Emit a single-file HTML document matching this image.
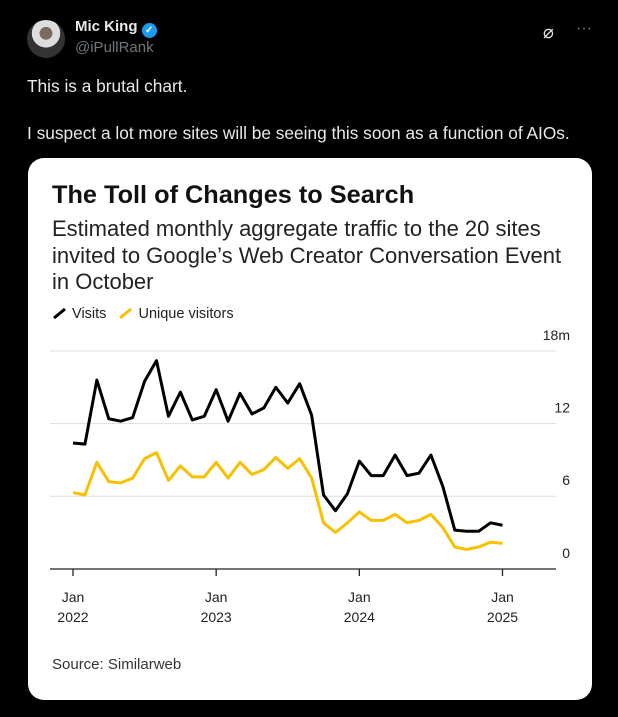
<!DOCTYPE html>
<html><head><meta charset="utf-8">
<style>
body{margin:0;width:618px;height:717px;background:#000;overflow:hidden;font-family:"Liberation Sans",Arial,sans-serif;color:#e7e9ea;position:relative}
.abs{position:absolute}
#card{left:28px;top:158px;width:564px;height:542px;background:#fff;border-radius:16px;}
</style></head><body>
<div class="abs" style="left:27px;top:20px;width:38px;height:38px;border-radius:50%;background:radial-gradient(circle at 50% 35%,#7a6a60 0 20%,#ddd 21% 45%,#333 46%)"></div>
<div class="abs" style="left:75px;top:18px;font-weight:bold;font-size:15px;color:#e7e9ea">Mic King <span style="display:inline-block;width:15px;height:15px;border-radius:50%;background:#1d9bf0;color:#fff;font-size:10px;text-align:center;line-height:15px;vertical-align:-2px">✓</span></div>
<div class="abs" style="left:75px;top:39px;font-size:15px;color:#71767b">@iPullRank</div>
<div class="abs" style="left:543px;top:22px;font-size:18px;color:#e7e9ea">⌀</div>
<div class="abs" style="left:576px;top:20px;font-size:16px;color:#71767b">···</div>
<div class="abs" style="left:27px;top:75px;font-size:17.3px;line-height:23.5px;color:#e7e9ea;white-space:nowrap">This is a brutal chart.<br><br>I suspect a lot more sites will be seeing this soon as a function of AIOs.</div>
<div id="card" class="abs"></div>
<div class="abs" style="left:52px;top:181px;font-size:25.3px;font-weight:bold;color:#111;white-space:nowrap">The Toll of Changes to Search</div>
<div class="abs" style="left:52px;top:216px;width:530px;font-size:22px;line-height:26.5px;color:#222;white-space:nowrap">Estimated monthly aggregate traffic to the 20 sites<br>invited to Google’s Web Creator Conversation Event<br>in October</div>
<div class="abs" style="left:52px;top:306px;font-size:14.5px;color:#222">
<span><svg width="16" height="12" style="vertical-align:-1px"><line x1="2" y1="11" x2="13" y2="2" stroke="#000" stroke-width="3"/></svg> Visits</span>
<span style="margin-left:8px"><svg width="16" height="12" style="vertical-align:-1px"><line x1="2" y1="11" x2="13" y2="2" stroke="#f7c000" stroke-width="3"/></svg> Unique visitors</span></div>
<svg class="abs" style="left:0;top:0" width="618" height="717" id="chart"></svg>
<div class="abs" style="left:52px;top:656px;font-size:15px;color:#333">Source: Similarweb</div>
<script>
const visits=[10.4,10.3,15.6,12.4,12.2,12.5,15.5,17.2,12.6,14.6,12.3,12.6,14.8,12.2,14.5,12.8,13.3,15.0,13.7,15.3,12.7,6.1,4.8,6.2,8.9,7.7,7.7,9.4,7.7,7.9,9.4,6.8,3.2,3.1,3.1,3.8,3.6];
const unique=[6.3,6.1,8.8,7.2,7.1,7.5,9.1,9.6,7.3,8.5,7.6,7.6,8.8,7.5,8.8,7.8,8.2,9.2,8.3,9.1,7.5,3.8,3.0,3.8,4.7,4.0,4.0,4.5,3.8,4.0,4.5,3.4,1.8,1.6,1.8,2.2,2.1];
const yTicks=[0,6,12,18];
const yTickLabels=["0","6","12","18m"];
const xTickMonths=[0,12,24,36];
const xTickYears=["2022","2023","2024","2025"];
const svg=document.getElementById('chart');
const NS='http://www.w3.org/2000/svg';
const x=i=>73+i*(502.5-73)/36;
const y=v=>568.8-v*(568.8-351)/18;
function mk(t,a){const e=document.createElementNS(NS,t);for(const k in a)e.setAttribute(k,a[k]);svg.appendChild(e);return e;}
yTicks.forEach((v,i)=>{
 if(v>0){const g=mk('line',{x1:50,x2:556,y1:y(v),y2:y(v),stroke:'#ddd','stroke-width':1});
 
 }
 const t=mk('text',{x:570,y:y(v)-11,'text-anchor':'end','font-size':14,fill:'#222','font-family':'Liberation Sans, sans-serif'});
 t.textContent=yTickLabels[i];
 
 
});
const ax=mk('line',{x1:50,x2:556,y1:569,y2:569,stroke:'#222','stroke-width':1.3});


xTickMonths.forEach((m,i)=>{
 const tk=mk('line',{x1:x(m),x2:x(m),y1:569,y2:576,stroke:'#222','stroke-width':1.3});
 
 
 const t1=mk('text',{x:x(m),y:602,'text-anchor':'middle','font-size':14,fill:'#222','font-family':'Liberation Sans, sans-serif'});
 t1.textContent='Jan';
 
 
 const t2=mk('text',{x:x(m),y:622,'text-anchor':'middle','font-size':14,fill:'#222','font-family':'Liberation Sans, sans-serif'});
 t2.textContent=xTickYears[i];
 
 
});
function line(d,c,n){const p=mk('polyline',{points:d.map((v,i)=>x(i)+','+y(v)).join(' '),fill:'none',stroke:c,'stroke-width':3,'stroke-linejoin':'round'});
 
 }
line(unique,'#f7c000','unique-visitors-line');
line(visits,'#000','visits-line');
</script>
</body></html>
